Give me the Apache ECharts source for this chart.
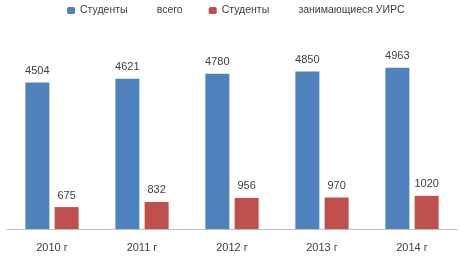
<!DOCTYPE html>
<html><head><meta charset="utf-8">
<script src="https://cdn.jsdelivr.net/npm/echarts@6/dist/echarts.min.js"></script>
<style>html,body{margin:0;padding:0;background:#fff}#c{width:463px;height:267px}</style>
</head><body><div id="c"></div>
<script>
const categories = ['2010 г', '2011 г', '2012 г', '2013 г', '2014 г'];
const seriesNames = ['Студенты          всего', 'Студенты          занимающиеся УИРС'];
const totalStudents = [4504, 4621, 4780, 4850, 4963];
const researchStudents = [675, 832, 956, 970, 1020];

const chart = echarts.init(document.getElementById('c'), null, {renderer: 'canvas'});
const labelStyle = {show: true, position: 'top', color: '#404040', fontSize: 11, fontFamily: 'Liberation Sans, Arial, sans-serif', distance: 6};
chart.setOption({
  animation: false,
  legend: {
    top: 0, left: 62, itemWidth: 8, itemHeight: 7, itemGap: 26,
    textStyle: {color: '#404040', fontSize: 10.5, fontFamily: 'Liberation Sans, Arial, sans-serif'},
    data: seriesNames
  },
  grid: {left: 7, right: 6, top: 34, bottom: 38, containLabel: false},
  xAxis: {
    type: 'category', data: categories,
    axisLine: {lineStyle: {color: '#bfbfbf'}},
    axisTick: {show: false},
    axisLabel: {color: '#404040', fontSize: 11, margin: 13, fontFamily: 'Liberation Sans, Arial, sans-serif'}
  },
  yAxis: {type: 'value', min: 0, max: 6000, show: false, splitLine: {show: false}},
  series: [
    {name: seriesNames[0], type: 'bar', data: totalStudents, barWidth: 24, barGap: '22%',
     itemStyle: {color: '#4f81bd'}, label: labelStyle},
    {name: seriesNames[1], type: 'bar', data: researchStudents, barWidth: 24,
     itemStyle: {color: '#c0504d'}, label: labelStyle}
  ]
});
</script></body></html>
